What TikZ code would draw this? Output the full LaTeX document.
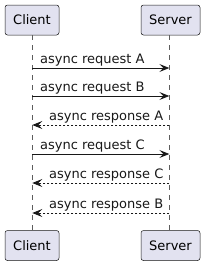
\documentclass[tikz,border=0pt]{standalone}
\usepackage{fontspec}
\setmainfont{DejaVu Sans}
\usetikzlibrary{arrows.meta}
\definecolor{boxfill}{HTML}{E2E2F0}
\definecolor{ink}{HTML}{181818}
\begin{document}
\begin{tikzpicture}[x=1pt,y=-1pt,
  actor/.style={draw=ink,fill=boxfill,rounded corners=2.5pt,line width=0.5pt,inner sep=0pt,font=\fontsize{13}{15}\selectfont},
  lifeline/.style={draw=ink!70,line width=0.5pt,dash pattern=on 5pt off 5pt},
  tip/.style={-{Stealth[length=10pt,width=8pt,inset=4pt]}},
  req/.style={draw=ink,line width=0.8pt,tip},
  resp/.style={draw=ink,line width=0.8pt,dash pattern=on 2pt off 2pt,tip},
  lbl/.style={anchor=base west,inner sep=0pt,font=\fontsize{13}{15}\selectfont,text=ink}]
\useasboundingbox (0,0) rectangle (205,265);
% top actors
\node[actor,minimum width=54pt,minimum height=30pt] (ct) at (32,20) {Client};
\node[actor,minimum width=59pt,minimum height=30pt] (st) at (170.5,20) {Server};
\node[actor,minimum width=54pt,minimum height=30pt] (cb) at (32,245.5) {Client};
\node[actor,minimum width=59pt,minimum height=30pt] (sb) at (170.5,245.5) {Server};
% lifelines
\coordinate (c0) at (32.3,35);
\coordinate (c1) at (32.3,230.5);
\coordinate (s0) at (169.3,35);
\coordinate (s1) at (169.3,230.5);
\draw[lifeline] (c0) -- (c1);
\draw[lifeline] (s0) -- (s1);
% messages
\foreach \n/\y in {a/68,b/96,r/125,c/154,q/183,p/213}{
  \coordinate (cl\n) at (32.3,\y);
  \coordinate (sl\n) at (169.3,\y);
}
\draw[req] (cla) -- (sla);
\node[lbl] (la) at (40,63) {async request A};
\draw[req] (clb) -- (slb);
\node[lbl] (lb) at (40,91) {async request B};
\draw[resp] (slr) -- (clr);
\node[lbl] (lr) at (49,120) {async response A};
\draw[req] (clc) -- (slc);
\node[lbl] (lc) at (40,149) {async request C};
\draw[resp] (slq) -- (clq);
\node[lbl] (lq) at (49,178) {async response C};
\draw[resp] (slp) -- (clp);
\node[lbl] (lp) at (49,208) {async response B};
\end{tikzpicture}
\end{document}
